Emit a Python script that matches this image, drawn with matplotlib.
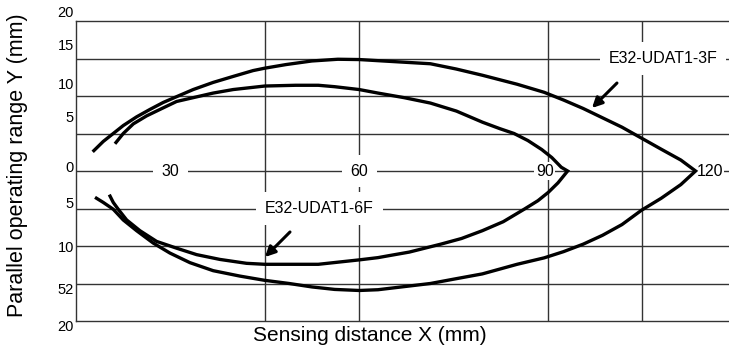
import matplotlib
matplotlib.use("Agg")
import matplotlib.pyplot as plt
from matplotlib.transforms import blended_transform_factory

plt.rcParams['font.family'] = ['Liberation Sans', 'DejaVu Sans']

# ---- data ----
# E32-UDAT1-3F (outer curve)
x_3f_upper = [17.65, 19.33, 20.92, 22.51, 24.63, 26.75, 28.86, 30.98, 33.62, 36.79, 39.97, 43.14,
              45.0, 48.36, 52.47, 56.6, 60.0, 63.0, 71.3, 75.4, 79.6, 85.08, 89.39, 92.47, 95.57,
              98.66, 101.75, 104.85, 107.97, 111.1, 113.44]
y_3f_upper = [2.56, 3.94, 5.0, 6.06, 7.22, 8.21, 9.14, 9.91, 10.86, 11.81, 12.61, 13.39,
              13.71, 14.19, 14.67, 14.9, 14.86, 14.71, 14.3, 13.6, 12.76, 11.57, 10.49, 9.46, 8.34,
              7.09, 5.84, 4.38, 2.91, 1.46, 0.0]
x_3f_lower = [111.1, 107.97, 104.85, 101.75, 98.66, 95.57, 92.47, 89.39, 85.08, 79.56, 75.4, 71.3,
              62.98, 60.0, 56.1, 52.5, 48.87, 45.0, 41.03, 36.79, 33.1, 29.92, 27.27, 24.63, 22.51,
              20.92, 19.33, 18.02]
y_3f_lower = [-1.81, -3.64, -5.23, -7.14, -8.57, -9.76, -10.75, -11.58, -12.44, -13.72, -14.36, -15.0,
              -15.83, -15.93, -15.79, -15.46, -15.0, -14.58, -14.01, -13.29, -12.22, -10.94, -9.61, -7.96, -6.53,
              -5.1, -4.19, -3.51]

# E32-UDAT1-6F (inner curve)
x_6f_upper = [21.19, 22.51, 24.1, 26.22, 28.86, 30.98, 33.62, 36.79, 39.97, 45.0, 49.9, 53.5, 56.1,
              60.0, 62.98, 67.13, 71.3, 75.44, 79.6, 82.36, 84.6, 86.8, 89.0, 90.6, 92.1, 93.11]
y_6f_upper = [3.63, 5.0, 6.28, 7.35, 8.42, 9.27, 9.78, 10.39, 10.86, 11.33, 11.43, 11.43, 11.24,
              10.86, 10.39, 9.78, 9.06, 7.99, 6.5, 5.64, 5.0, 4.06, 2.86, 1.79, 0.5, 0.0]
x_6f_lower = [91.58, 90.05, 88.39, 86.2, 82.88, 79.56, 76.25, 72.93, 67.96, 64.64, 62.98, 60.0,
              53.5, 45.0, 42.1, 37.86, 34.16, 30.98, 27.81, 25.16, 23.05, 21.71, 20.92, 20.29]
y_6f_lower = [-1.58, -2.84, -3.96, -5.1, -6.76, -7.96, -9.0, -9.76, -10.81, -11.3, -11.55, -11.85,
              -12.44, -12.44, -12.31, -11.79, -11.15, -10.29, -9.39, -7.96, -6.53, -5.1, -4.19, -3.15]

series_names = ["E32-UDAT1-3F", "E32-UDAT1-6F"]

x_tick_values = [30, 60, 90, 120]
x_tick_labels = ["30", "60", "90", "120"]
y_tick_labels = ["20", "15", "10", "5", "0", "5", "10", "52", "20"]

# ---- layout ----
W, H = 729, 347
fig = plt.figure(figsize=(W / 100, H / 100), dpi=100)
ax = fig.add_axes([76 / W, 1 - 321 / H, 1 - 76 / W, (321 - 21) / H])
ax.set_xlim(15, 118.75)
ax.set_ylim(-20, 20)

grid_col = '#333333'
grid_lw = 1.0
for s in ['left', 'top', 'bottom']:
    ax.spines[s].set_color(grid_col)
    ax.spines[s].set_linewidth(grid_lw)
ax.spines['right'].set_visible(False)
ax.set_xticks([])
ax.set_yticks([])

for yv in [-15, -10, -5, 0, 5, 10, 15]:
    ax.axhline(yv, color=grid_col, lw=grid_lw, zorder=1)
for xv in [45, 60, 90, 105]:
    ax.axvline(xv, color=grid_col, lw=grid_lw, zorder=1)

curve_kw = dict(color='black', lw=2.4, solid_joinstyle='miter', solid_capstyle='butt', zorder=3)
ax.plot(x_3f_upper + x_3f_lower, y_3f_upper + y_3f_lower, **curve_kw)
ax.plot(x_6f_upper + x_6f_lower, y_6f_upper + y_6f_lower, **curve_kw)

fs_num = 11.5
wbox = dict(facecolor='white', edgecolor='none', boxstyle='square,pad=0.55')
# x value labels on the zero line
ax.text(x_tick_values[0], 0, x_tick_labels[0], ha='center', va='center', fontsize=fs_num, bbox=wbox, zorder=2)
ax.text(x_tick_values[1], 0, x_tick_labels[1], ha='center', va='center', fontsize=fs_num, bbox=wbox, zorder=2)
ax.text(max(x_6f_upper) - 2.2, 0, x_tick_labels[2], ha='right', va='center', fontsize=fs_num,
        bbox=dict(facecolor='white', edgecolor='none', boxstyle='square,pad=0.1'), zorder=2)
ax.text(max(x_3f_upper) + 0.2, 0, x_tick_labels[3], ha='left', va='center', fontsize=fs_num,
        bbox=dict(facecolor='white', edgecolor='none', boxstyle='square,pad=0.05'), zorder=2)

# y tick labels (as printed, placed beside the left edge)
label_y = [21.1, 16.67, 11.47, 7.07, 0.4, -4.4, -10.27, -15.87, -20.8]
trans = blended_transform_factory(ax.transAxes, ax.transData)
for ly, lab in zip(label_y, y_tick_labels):
    ax.text(-0.003, ly, lab, transform=trans, ha='right', va='center', fontsize=10.5, clip_on=False)

# series labels with arrows
ax.text(108.3, 15, series_names[0], ha='center', va='center', fontsize=fs_num, bbox=wbox, zorder=2)
ax.text(53.7, -5, series_names[1], ha='center', va='center', fontsize=fs_num, bbox=wbox, zorder=2)
arrow_kw = dict(arrowstyle='-|>,head_length=0.6,head_width=0.3', color='black', lw=2.2,
                shrinkA=0, shrinkB=0)
ax.annotate('', xy=(96.98, 8.4), xytext=(100.95, 11.73), arrowprops=arrow_kw, zorder=4)
ax.annotate('', xy=(45.03, -11.47), xytext=(49.0, -8.13), arrowprops=arrow_kw, zorder=4)

fig.text(369.5 / W, 1 - 341 / H, "Sensing distance X (mm)", ha='center', va='baseline', fontsize=15)
fig.text(18 / W, 1 - 165 / H, "Parallel operating range Y (mm)", ha='center', va='center',
         rotation=90, fontsize=15.5)

fig.savefig("out.png", dpi=100)
